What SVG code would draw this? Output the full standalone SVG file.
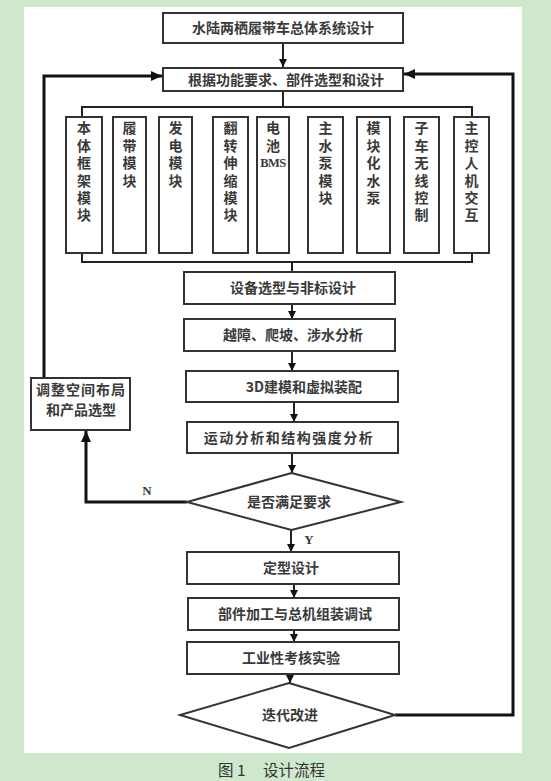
<svg xmlns="http://www.w3.org/2000/svg" width="551" height="781" viewBox="0 0 551 781">
<style>
.box{fill:#fff;stroke:#333;stroke-width:2}
.t{font-family:"Noto Sans CJK SC","Noto Sans",sans-serif;font-size:14px;font-weight:700;fill:#3a3a3a;text-anchor:middle}
.v{font-family:"Noto Sans CJK SC","Noto Sans",sans-serif;font-size:14px;font-weight:700;fill:#3a3a3a;writing-mode:vertical-rl;letter-spacing:3.4px}
.lat{font-family:"Liberation Serif",serif;font-weight:700;fill:#3a3a3a}
.ln{fill:none;stroke:#222;stroke-width:2}
.fb{fill:none;stroke:#111;stroke-width:3}
.cap{font-family:"Noto Sans CJK SC","Noto Sans",sans-serif;font-size:15.5px;fill:#333}
</style>
<defs>
<marker id="ah" markerUnits="userSpaceOnUse" markerWidth="8" markerHeight="8" refX="8" refY="4" orient="auto"><path d="M0,0 L8,4 L0,8 z" fill="#111"/></marker>
<marker id="ahb" markerUnits="userSpaceOnUse" markerWidth="11" markerHeight="10" refX="11" refY="5" orient="auto"><path d="M0,0 L11,5 L0,10 z" fill="#111"/></marker>
</defs>
<rect x="0" y="0" width="551" height="781" fill="#cfe7cc"/>
<rect x="24" y="7" width="498" height="746" fill="#fff"/>

<g id="connectors">
<line class="ln" x1="283" y1="44" x2="283" y2="67" marker-end="url(#ah)"/>
<polyline class="ln" points="283,91 283,107"/>
<polyline class="ln" points="82,117 82,107 472,107 472,117"/>
<polyline class="ln" points="82,253 82,262 472,262 472,253"/>
<line class="ln" x1="292" y1="262" x2="292" y2="272"/>
<line class="ln" x1="292" y1="304" x2="292" y2="319" marker-end="url(#ah)"/>
<line class="ln" x1="292" y1="351" x2="292" y2="371" marker-end="url(#ah)"/>
<line class="ln" x1="294" y1="402" x2="294" y2="422" marker-end="url(#ah)"/>
<line class="ln" x1="292" y1="453" x2="292" y2="473" marker-end="url(#ah)"/>
<line class="ln" x1="291" y1="530" x2="291" y2="552" marker-end="url(#ah)"/>
<line class="ln" x1="294" y1="584" x2="294" y2="598" marker-end="url(#ah)"/>
<line class="ln" x1="294" y1="630" x2="294" y2="642" marker-end="url(#ah)"/>
<line class="ln" x1="290" y1="674" x2="290" y2="683" marker-end="url(#ah)"/>
<polyline class="fb" points="44,378 44,76 162,76" marker-end="url(#ahb)"/>
<polyline class="fb" points="187,502 86,502 86,431" marker-end="url(#ahb)"/>
<polyline class="fb" points="395,715 513,715 513,74 404,74" marker-end="url(#ahb)"/>
<text class="lat" x="147" y="495" font-size="13" text-anchor="middle">N</text>
<text class="lat" x="309" y="544" font-size="13" text-anchor="middle">Y</text>
</g>

<g id="n-title"><rect class="box" x="163" y="13" width="240" height="30"/><text class="t" x="283" y="33">水陆两栖履带车总体系统设计</text></g>
<g id="n-req"><rect class="box" x="163" y="68" width="240" height="23"/><text class="t" x="286" y="84.5">根据功能要求、部件选型和设计</text></g>

<g id="m1"><rect class="box" x="66" y="117" width="36" height="136"/><text class="v" x="84" y="121">本体框架模块</text></g>
<g id="m2"><rect class="box" x="113" y="117" width="33" height="136"/><text class="v" x="129.5" y="121">履带模块</text></g>
<g id="m3"><rect class="box" x="159" y="117" width="33" height="136"/><text class="v" x="175.5" y="121">发电模块</text></g>
<g id="m4"><rect class="box" x="213" y="117" width="35" height="136"/><text class="v" x="230.5" y="121">翻转伸缩模块</text></g>
<g id="m5"><rect class="box" x="257" y="117" width="32" height="136"/><text class="v" x="273" y="121">电池</text><text class="lat" x="273" y="167" font-size="12.5" font-weight="400" text-anchor="middle" letter-spacing="-0.5">BMS</text></g>
<g id="m6"><rect class="box" x="308" y="117" width="35" height="136"/><text class="v" x="325.5" y="121">主水泵模块</text></g>
<g id="m7"><rect class="box" x="357" y="117" width="33" height="136"/><text class="v" x="373.5" y="121">模块化水泵</text></g>
<g id="m8"><rect class="box" x="404" y="117" width="35" height="136"/><text class="v" x="421.5" y="121">子车无线控制</text></g>
<g id="m9"><rect class="box" x="454" y="117" width="35" height="136"/><text class="v" x="471.5" y="121">主控人机交互</text></g>

<g id="n-equip"><rect class="box" x="184" y="272" width="211" height="32"/><text class="t" x="293" y="293">设备选型与非标设计</text></g>
<g id="n-obst"><rect class="box" x="184" y="319" width="211" height="32"/><text class="t" x="293" y="340">越障、爬坡、涉水分析</text></g>
<g id="n-3d"><rect class="box" x="186" y="371" width="212" height="31"/><text class="t" x="304" y="392">3D建模和虚拟装配</text></g>
<g id="n-motion"><rect class="box" x="187" y="422" width="211" height="31"/><text class="t" x="289" y="443" letter-spacing="1.5">运动分析和结构强度分析</text></g>
<g id="n-adjust"><rect class="box" x="31" y="378" width="99" height="52"/><text class="t" x="81" y="395" letter-spacing="1">调整空间布局</text><text class="t" x="81" y="415">和产品选型</text></g>
<g id="n-check"><polygon class="box" points="291.5,473 401,502 291.5,530 187,502"/><text class="t" x="289" y="507">是否满足要求</text></g>
<g id="n-final"><rect class="box" x="187" y="552" width="212" height="32"/><text class="t" x="291" y="573">定型设计</text></g>
<g id="n-assy"><rect class="box" x="188" y="598" width="211" height="32"/><text class="t" x="295" y="619">部件加工与总机组装调试</text></g>
<g id="n-test"><rect class="box" x="187" y="642" width="212" height="32"/><text class="t" x="291" y="663">工业性考核实验</text></g>
<g id="n-iter"><polygon class="box" points="289,683 395,715 289,748 180,715"/><text class="t" x="290" y="720">迭代改进</text></g>

<text class="cap" x="218" y="776">图</text><text class="cap" x="237" y="776">1</text><text class="cap" x="263" y="776">设计流程</text>
</svg>
